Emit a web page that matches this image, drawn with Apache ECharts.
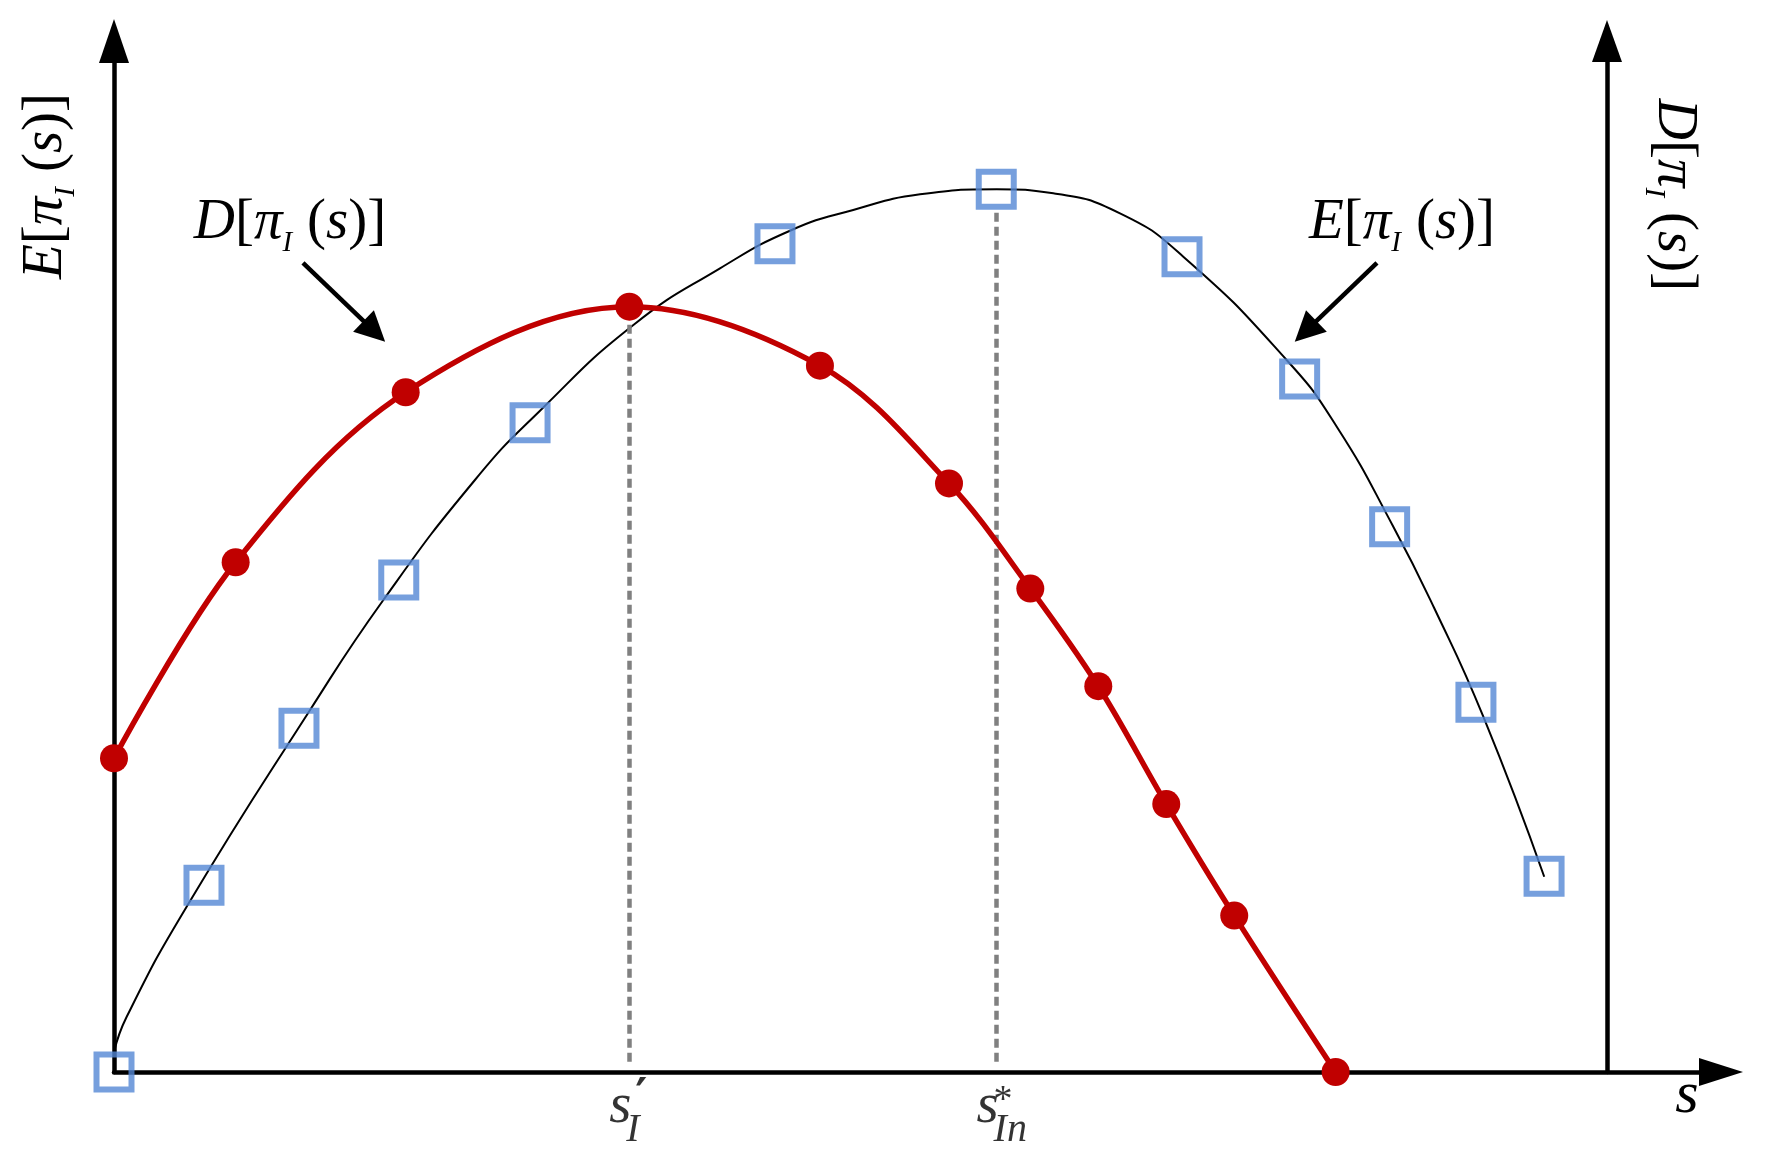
<!DOCTYPE html>
<html><head><meta charset="utf-8">
<script src="https://cdn.jsdelivr.net/npm/echarts@6/dist/echarts.min.js"></script>
<style>html,body{margin:0;padding:0;background:#fff}#c{width:1765px;height:1167px}</style>
</head><body><div id="c"></div>
<script>
// ---- data (abstract units, s on 0..100, value on 0..100) ----
const sD   = [0, 7.57, 18.15, 32.07, 43.93, 51.96, 57.02, 61.25, 65.48, 69.71, 76.02];
const valD = [30.43, 49.44, 65.93, 74.23, 68.51, 57.09, 46.89, 37.42, 25.99, 15.17, 0];
const sE   = [0, 5.60, 11.51, 17.72, 25.89, 41.13, 54.90, 66.46, 73.78, 79.38, 84.75, 88.99];
const valE = [0, 18.11, 33.34, 47.72, 62.98, 80.34, 85.62, 79.08, 67.22, 52.89, 35.86, 18.98];
// black E curve
const curveS = [0, 0.79, 4.52, 12.20, 16.76, 22.46, 26.51, 32.32, 37.71, 42.17, 46.00, 50.16, 54.93, 58.45, 62.60, 66.54, 72.97, 76.09, 79.61, 82.16, 85.21, 89.00];
const curveE = [1.94, 5.36, 16.03, 35.11, 45.78, 57.42, 64.14, 72.45, 77.95, 81.67, 83.61, 85.13, 85.62, 85.23, 83.29, 79.08, 69.06, 62.59, 52.89, 44.98, 34.46, 18.94];
// marked s positions on the axis
const tickS   = [32.07, 54.92];
const tickTop = [74.23, 83.6];
const tickMain = ['s', 's'];
const tickSup = ['′', '*'];
const tickSub = ['I', 'In'];

const pair = (xs, ys) => xs.map((x, i) => [x, ys[i]]);
const SERIF = "'Liberation Serif','Times New Roman',serif";

const axisLineBase = (sym, size) => ({
  show: true, onZero: false, symbol: ['none', sym], symbolSize: size,
  lineStyle: { color: '#000', width: 4.5 }
});
const hideParts = { axisTick: { show: false }, axisLabel: { show: false }, splitLine: { show: false } };

const mathRich = {
  it:  { fontFamily: SERIF, fontStyle: 'italic', fontSize: 57, lineHeight: 70, verticalAlign: 'middle', fill: '#000' },
  n:   { fontFamily: SERIF, fontSize: 57, lineHeight: 70, verticalAlign: 'middle', fill: '#000' },
  sub: { fontFamily: SERIF, fontStyle: 'italic', fontSize: 29, lineHeight: 29, verticalAlign: 'bottom', padding: [0, 15, 0, 0], fill: '#000' }
};
const mathText = (letter) => `{it|${letter}}{n|[}{it|π}{sub|I}{n|(}{it|s}{n|)]}`;

const chart = echarts.init(document.getElementById('c'), null, { renderer: 'canvas' });
chart.setOption({
  animation: false,
  backgroundColor: '#fff',
  grid: { left: 114, top: 41, width: 1607, height: 1031, containLabel: false },
  xAxis: Object.assign({ type: 'value', min: 0, max: 100,
    axisLine: axisLineBase('triangle', [28, 44]) }, hideParts),
  yAxis: [
    Object.assign({ type: 'value', min: 0, max: 100, position: 'left',
      axisLine: axisLineBase('triangle', [30, 44]) }, hideParts),
    Object.assign({ type: 'value', min: 0, max: 100, position: 'right', offset: -114,
      axisLine: axisLineBase('triangle', [30, 42]) }, hideParts)
  ],
  series: [
    {
      name: 'E curve', type: 'line', data: pair(curveS, curveE), smooth: 0.5,
      symbol: 'none', lineStyle: { color: '#000', width: 2 }, z: 3, silent: true
    },
    {
      name: 'E[π_I(s)]', type: 'scatter', data: pair(sE, valE), symbol: 'rect', symbolSize: 35,
      itemStyle: { color: 'rgba(0,0,0,0)', borderColor: '#5487d5', borderWidth: 6 }, z: 6
    },
    {
      name: 'D[π_I(s)]', type: 'line', yAxisIndex: 1, data: pair(sD, valD), smooth: 0.35,
      symbol: 'circle', symbolSize: 28, showAllSymbol: true,
      itemStyle: { color: '#c00000' }, lineStyle: { color: '#c00000', width: 5.5 }, z: 5,
      markLine: {
        silent: true, symbol: ['none', 'triangle'], symbolSize: [30, 30],
        lineStyle: { color: '#000', width: 4.5, type: 'solid' }, label: { show: false },
        data: [
          [{ coord: [11.76, 78.47] }, { coord: [16.20, 71.83] }],
          [{ coord: [78.59, 78.47] }, { coord: [74.15, 71.83] }]
        ]
      }
    },
    {
      name: 'ticks', type: 'scatter', data: tickS.map(x => [x, 0]), symbolSize: 0, z: 2,
      itemStyle: { color: 'rgba(0,0,0,0)' },
      label: {
        show: true, position: 'inside', align: 'center', verticalAlign: 'middle', offset: [-9, 35],
        formatter: p => `{m|${tickMain[p.dataIndex]}}`,
        rich: { m: { fontFamily: SERIF, fontStyle: 'italic', fontSize: 57, color: '#000' } }
      },
      markLine: {
        silent: true, symbol: ['none', 'none'],
        lineStyle: { color: '#808080', width: 4.5, type: [9, 5] }, label: { show: false },
        data: tickS.map((x, i) => [{ coord: [x, 1] }, { coord: [x, tickTop[i]] }])
      }
    },
    {
      name: 'tickScripts', type: 'scatter', data: tickS.map(x => [x, 0]), symbolSize: 0, z: 2,
      itemStyle: { color: 'rgba(0,0,0,0)' },
      label: {
        show: true, position: 'inside', align: 'left', verticalAlign: 'top', offset: [-3, 12],
        formatter: p => `{${p.dataIndex === 0 ? 'pr' : 'as'}|${tickSup[p.dataIndex]}}\n{sub|${tickSub[p.dataIndex]}}`,
        rich: {
          pr:  { fontFamily: "'DejaVu Serif',serif", fontWeight: 'bold', fontSize: 46, lineHeight: 26, padding: [4, 0, 0, 9], color: '#000' },
          as:  { fontFamily: SERIF, fontSize: 38, lineHeight: 26, padding: [8, 0, 0, 0], color: '#000' },
          sub: { fontFamily: SERIF, fontStyle: 'italic', fontSize: 40, lineHeight: 40, color: '#000' }
        }
      }
    }
  ],
  graphic: [
    { type: 'text', x: 46, y: 186, rotation: Math.PI / 2, z: 10,
      style: { text: mathText('E'), rich: mathRich, align: 'center', verticalAlign: 'middle' } },
    { type: 'text', x: 1674, y: 195, rotation: -Math.PI / 2, z: 10,
      style: { text: mathText('D'), rich: mathRich, align: 'center', verticalAlign: 'middle' } },
    { type: 'text', x: 290, y: 223, z: 10,
      style: { text: mathText('D'), rich: mathRich, align: 'center', verticalAlign: 'middle' } },
    { type: 'text', x: 1402, y: 223, z: 10,
      style: { text: mathText('E'), rich: mathRich, align: 'center', verticalAlign: 'middle' } },
    { type: 'text', x: 1687, y: 1096, z: 10,
      style: { text: 's', fontFamily: SERIF, fontStyle: 'italic', fontSize: 60, fill: '#000', align: 'center', verticalAlign: 'middle' } }
  ]
});
</script></body></html>
